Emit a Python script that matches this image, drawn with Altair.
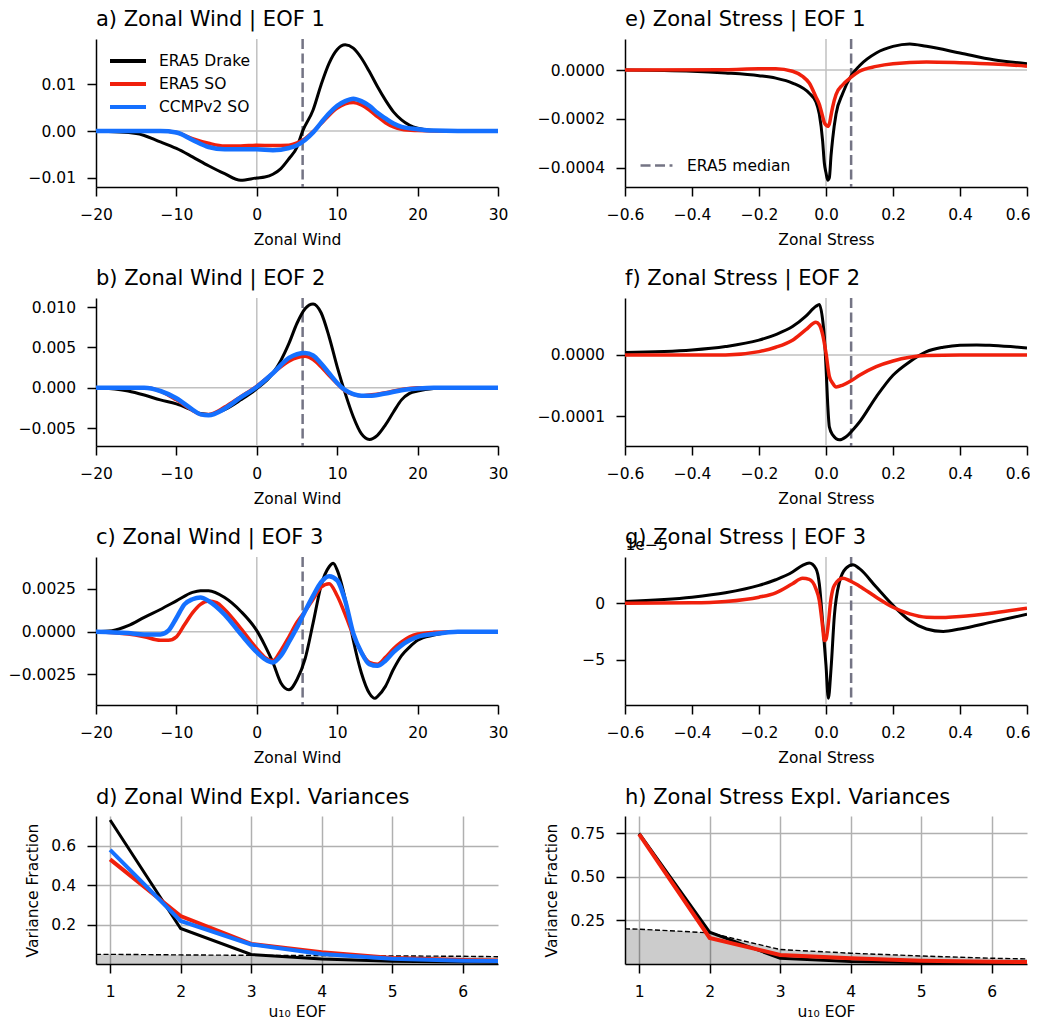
import altair as alt
import pandas as pd

FONT = "DejaVu Sans"
FS = 15.5
SERIES = ["ERA5 Drake", "ERA5 SO", "CCMPv2 SO"]
COLORS = ["#000000", "#f0200c", "#1570ff"]
WIDTHS = {"ERA5 Drake": 3, "ERA5 SO": 3.5, "CCMPv2 SO": 4.5}
ZCOL = "#c0c0c0"
MEDCOL = "#747484"

# ---------------- Zonal wind EOF 1 ----------------
w1_drake_x = [-20, -15, -12, -10, -8, -6, -4, -2, 0, 1, 2, 3, 4, 5, 5.7, 7, 8, 9, 10, 11, 12, 13, 14, 15, 16, 17, 18, 20, 22, 25, 30]
w1_drake_y = [0, -0.0005, -0.0023, -0.0037, -0.0055, -0.0074, -0.0091, -0.0105, -0.0100, -0.0098, -0.0092, -0.0080, -0.0059, -0.0034, 0.0, 0.0045, 0.0099, 0.0145, 0.0174, 0.0184, 0.0177, 0.0156, 0.0127, 0.0095, 0.0066, 0.0041, 0.0024, 0.0006, 0.0001, 0, 0]
w1_so_x = [-20, -12, -10, -8, -6, -4, -2, 0, 2, 4, 5, 6, 7, 8, 9, 10, 11, 12, 13, 14, 15, 16, 17, 18, 20, 22, 30]
w1_so_y = [0, 0, -0.0003, -0.0016, -0.0026, -0.0032, -0.0032, -0.0030, -0.0031, -0.0030, -0.0025, -0.0016, -0.0001, 0.0016, 0.0034, 0.0049, 0.0058, 0.0061, 0.0056, 0.0045, 0.0031, 0.0018, 0.0009, 0.0004, 0.0001, 0, 0]
w1_ccmp_x = [-20, -12, -10, -8, -6, -4, -2, 0, 2, 4, 5, 6, 7, 8, 9, 10, 11, 12, 13, 14, 15, 16, 17, 18, 20, 22, 25, 30]
w1_ccmp_y = [0, 0, -0.0003, -0.0019, -0.0034, -0.0039, -0.0039, -0.0039, -0.0041, -0.0036, -0.0030, -0.0019, -0.0003, 0.0018, 0.0038, 0.0054, 0.0064, 0.0069, 0.0064, 0.0054, 0.0039, 0.0027, 0.0016, 0.0009, 0.0004, 0.0001, 0, 0]

# ---------------- Zonal wind EOF 2 ----------------
w2_drake_x = [-20, -16, -14, -12, -10, -8, -7, -6, -4, -2, 0, 2, 3, 4, 5, 6, 7, 8, 9, 10, 11, 12, 13, 14, 15, 16, 17, 18, 19, 20, 22, 25, 30]
w2_drake_y = [0, -0.0004, -0.0009, -0.0015, -0.0020, -0.0028, -0.0032, -0.0033, -0.0027, -0.0015, -0.0001, 0.0018, 0.0034, 0.0055, 0.0080, 0.0098, 0.0104, 0.0093, 0.0063, 0.0026, -0.0007, -0.0036, -0.0057, -0.0064, -0.0059, -0.0046, -0.0030, -0.0015, -0.0007, -0.0004, -0.0001, 0, 0]
w2_so_x = [-20, -14, -12, -10, -8, -7, -6, -4, -2, 0, 2, 4, 6, 7, 8, 9, 10, 11, 12, 13, 14, 16, 18, 20, 22, 30]
w2_so_y = [0, 0, -0.0004, -0.0015, -0.0028, -0.0033, -0.0033, -0.0024, -0.0011, 0.0002, 0.0018, 0.0033, 0.0039, 0.0035, 0.0026, 0.0015, 0.0005, -0.0004, -0.0008, -0.0010, -0.0009, -0.0006, -0.0002, 0, 0, 0]
w2_ccmp_x = [-20, -14, -12, -10, -8, -7, -6, -4, -2, 0, 2, 4, 6, 7, 8, 9, 10, 11, 12, 13, 14, 16, 18, 20, 22, 30]
w2_ccmp_y = [0, 0, -0.0004, -0.0013, -0.0027, -0.0033, -0.0034, -0.0026, -0.0012, 0.0001, 0.0018, 0.0037, 0.0043, 0.0040, 0.0030, 0.0018, 0.0006, -0.0003, -0.0008, -0.0010, -0.0010, -0.0007, -0.0003, -0.0001, 0, 0]

# ---------------- Zonal wind EOF 3 ----------------
w3_drake_x = [-20, -18, -16, -14, -12, -10, -8, -7, -6, -4, -2, 0, 1, 2, 3, 4, 5, 6, 7, 8, 9, 9.5, 10, 11, 12, 13, 14, 14.7, 15, 16, 17, 18, 19, 20, 22, 25, 30]
w3_drake_y = [0, 0.00006, 0.00035, 0.00084, 0.0013, 0.0018, 0.0023, 0.0024, 0.0024, 0.0020, 0.0012, 0.00006, -0.0008, -0.0018, -0.0030, -0.0034, -0.0028, -0.0016, 0.0005, 0.0027, 0.0038, 0.0040, 0.0036, 0.0019, -0.0005, -0.0024, -0.0036, -0.0039, -0.0038, -0.0032, -0.0022, -0.0014, -0.0009, -0.0005, -0.0002, 0, 0]
w3_so_x = [-20, -16, -14, -12, -11, -10, -9, -8, -7, -6, -5, -4, -2, 0, 1, 2, 3, 4, 5, 6, 7, 8, 9, 10, 11, 12, 13, 14, 15, 16, 17, 18, 19, 20, 22, 25, 30]
w3_so_y = [0, -0.00014, -0.0003, -0.0005, -0.0005, -0.0003, 0.0004, 0.0011, 0.0016, 0.0018, 0.0017, 0.0013, 0.0002, -0.0010, -0.0015, -0.0017, -0.0011, -0.0003, 0.00055, 0.0012, 0.0019, 0.0026, 0.0028, 0.0021, 0.0010, -0.0002, -0.0012, -0.0018, -0.0019, -0.0015, -0.0010, -0.0006, -0.0003, -0.00014, -0.00004, 0, 0]
w3_ccmp_x = [-20, -16, -14, -12, -11, -10, -9, -8, -7, -6, -4, -2, 0, 1, 2, 3, 4, 5, 6, 7, 8, 9, 10, 11, 12, 13, 14, 15, 16, 17, 18, 19, 20, 22, 25, 30]
w3_ccmp_y = [0, -0.00008, -0.00016, -0.00016, 0.00006, 0.0008, 0.0016, 0.0019, 0.0020, 0.0018, 0.0010, -0.00014, -0.0012, -0.0016, -0.0018, -0.0014, -0.0006, 0.00025, 0.0012, 0.0021, 0.0029, 0.00325, 0.0030, 0.0018, -0.0001, -0.0012, -0.0019, -0.0020, -0.0017, -0.0012, -0.0008, -0.0005, -0.0003, -0.00014, 0, 0]

# ---------------- Zonal stress EOF 1 ----------------
s1_drake_x = [-0.6, -0.4, -0.3, -0.2, -0.15, -0.1, -0.05, -0.03, -0.02, -0.01, -0.005, 0.0, 0.005, 0.01, 0.015, 0.02, 0.03, 0.05, 0.075, 0.1, 0.15, 0.2, 0.25, 0.3, 0.4, 0.5, 0.6]
s1_drake_y = [0, -0.000005, -0.000012, -0.000023, -0.000033, -0.000053, -0.000095, -0.00013, -0.00018, -0.00029, -0.00038, -0.00042, -0.00045, -0.00044, -0.00035, -0.00028, -0.00018, -0.000095, -0.000023, 0.000018, 0.00007, 0.000097, 0.000107, 0.000097, 0.00007, 0.000042, 0.000026]
s1_so_x = [-0.6, -0.3, -0.2, -0.15, -0.1, -0.07, -0.05, -0.03, -0.02, -0.01, -0.005, 0.0, 0.005, 0.01, 0.015, 0.02, 0.03, 0.05, 0.075, 0.1, 0.15, 0.2, 0.3, 0.4, 0.5, 0.6]
s1_so_y = [0, 0.000001, 0.000005, 0.000005, -0.000005, -0.000026, -0.000053, -0.00011, -0.00014, -0.00019, -0.000215, -0.000225, -0.00023, -0.00022, -0.000185, -0.00015, -0.0001, -0.00006, -0.000029, -0.000005, 0.000015, 0.000026, 0.000033, 0.00003, 0.000025, 0.000016]

# ---------------- Zonal stress EOF 2 ----------------
s2_drake_x = [-0.6, -0.4, -0.3, -0.2, -0.15, -0.1, -0.06, -0.03, -0.02, -0.01, -0.005, 0.0, 0.005, 0.01, 0.02, 0.04, 0.06, 0.08, 0.1, 0.15, 0.2, 0.25, 0.3, 0.35, 0.4, 0.45, 0.5, 0.6]
s2_drake_y = [0.0000038, 0.000008, 0.0000136, 0.000024, 0.000033, 0.000046, 0.000063, 0.000079, 0.000082, 0.000057, 0.00003, -0.000019, -0.000079, -0.000117, -0.00013, -0.000138, -0.000133, -0.000122, -0.000109, -0.000068, -0.000033, -0.000011, 0.0000054, 0.0000125, 0.0000158, 0.0000163, 0.0000152, 0.0000114]
s2_so_x = [-0.6, -0.3, -0.2, -0.15, -0.1, -0.06, -0.03, -0.02, -0.01, 0.0, 0.01, 0.02, 0.03, 0.05, 0.075, 0.1, 0.15, 0.2, 0.25, 0.3, 0.4, 0.6]
s2_so_y = [0, 0, 0.0000054, 0.0000125, 0.000024, 0.000041, 0.000053, 0.000049, 0.000033, 0.000003, -0.000035, -0.000046, -0.000052, -0.000049, -0.000042, -0.000033, -0.000019, -0.0000098, -0.0000038, -0.000001, 0, 0]

# ---------------- Zonal stress EOF 3 (units of 1e-5) ----------------
s3_drake_x = [-0.6, -0.4, -0.3, -0.2, -0.15, -0.1, -0.07, -0.05, -0.03, -0.02, -0.01, 0.0, 0.007, 0.015, 0.025, 0.04, 0.06, 0.08, 0.1, 0.15, 0.2, 0.25, 0.3, 0.35, 0.4, 0.5, 0.6]
s3_drake_y = [0.15, 0.53, 0.92, 1.57, 2.07, 2.75, 3.34, 3.55, 3.05, 1.72, -1.69, -5.5, -8.4, -5.8, -1.1, 1.86, 3.1, 3.4, 3.05, 1.42, -0.2, -1.54, -2.28, -2.5, -2.28, -1.63, -0.98]
s3_so_x = [-0.6, -0.4, -0.3, -0.2, -0.15, -0.1, -0.07, -0.05, -0.03, -0.02, -0.01, -0.005, 0.0, 0.005, 0.015, 0.025, 0.05, 0.07, 0.1, 0.15, 0.2, 0.25, 0.3, 0.35, 0.4, 0.5, 0.6]
s3_so_y = [0, 0.03, 0.15, 0.53, 0.92, 1.72, 2.2, 2.1, 1.27, 0.24, -2.1, -3.3, -3.2, -2.3, 0.4, 1.57, 2.2, 2.0, 1.5, 0.53, -0.36, -0.95, -1.24, -1.27, -1.18, -0.86, -0.44]

# ---------------- Explained variances ----------------
eof_num = [1, 2, 3, 4, 5, 6, 7]
wind_var_drake = [0.73, 0.18, 0.048, 0.025, 0.014, 0.010, 0.008]
wind_var_so = [0.53, 0.243, 0.102, 0.060, 0.030, 0.020, 0.016]
wind_var_ccmp = [0.578, 0.218, 0.099, 0.051, 0.026, 0.017, 0.014]
noise_x = [0.8, 1, 2, 3, 4, 5, 6, 6.5]
wind_noise = [0.049, 0.049, 0.046, 0.044, 0.043, 0.041, 0.039, 0.037]
stress_var_drake = [0.75, 0.183, 0.033, 0.015, 0.008, 0.004, 0.003]
stress_var_so = [0.746, 0.15, 0.052, 0.033, 0.019, 0.013, 0.010]
stress_noise = [0.202, 0.2, 0.179, 0.083, 0.062, 0.046, 0.033, 0.029]

zero_line = [0]
median_wind = [5.7]
median_stress = [0.075]

wind_ticks = [-20, -10, 0, 10, 20, 30]
stress_ticks = [-0.6, -0.4, -0.2, 0.0, 0.2, 0.4, 0.6]

W, H = 402, 148
TITLE_OFFSET = 8

LEGEND_A = alt.Legend(title=None, orient="none", legendX=18, legendY=8,
                      symbolType="M-1.5,0H1.5", symbolSize=576, symbolStrokeWidth=4,
                      labelOffset=17, rowPadding=0, padding=0,
                      labelFont=FONT, labelFontSize=FS, labelColor="black")

# keep the last stress tick label inside the page (right edge)
LAST_LABEL = "datum.value >= 0.59"
STRESS_XAXIS_EXTRA = dict(
    labelAlign={"condition": {"test": LAST_LABEL, "value": "right"}, "value": "center"},
    labelOffset={"condition": {"test": LAST_LABEL, "value": 3}, "value": 0},
)


def frame(xs, ys, name):
    return pd.DataFrame({"x": xs, "y": ys, "series": name})


def eof_panel(title, series, xdom, ydom, xticks, yticks, xfmt, yfmt, xtitle,
              median, legend=None, dash_legend=False, ytitle=None, yextra=None,
              xextra=None, title_offset=TITLE_OFFSET):
    xsc = alt.Scale(domain=xdom, nice=False, zero=False)
    ysc = alt.Scale(domain=ydom, nice=False, zero=False)
    xargs = dict(values=xticks, format=xfmt, title=xtitle, titlePadding=9)
    if xextra:
        xargs.update(xextra)
    xaxis = alt.Axis(**xargs)
    yargs = dict(values=yticks, format=yfmt, title=ytitle)
    if yextra:
        yargs.update(yextra)
    yaxis = alt.Axis(**yargs)

    def X():
        return alt.X("x:Q", scale=xsc, axis=xaxis)

    def Y():
        return alt.Y("y:Q", scale=ysc, axis=yaxis)

    layers = []
    layers.append(alt.Chart(pd.DataFrame({"x": zero_line})).mark_rule(
        color=ZCOL, strokeWidth=1.5).encode(x=X()))
    layers.append(alt.Chart(pd.DataFrame({"y": zero_line})).mark_rule(
        color=ZCOL, strokeWidth=1.5).encode(y=Y()))
    med_df = pd.DataFrame({"x": median, "label": ["ERA5 median"]})
    med = alt.Chart(med_df).mark_rule(color=MEDCOL, strokeWidth=2.5, strokeDash=[10, 4.5])
    if dash_legend:
        med = med.encode(
            x=X(),
            strokeDash=alt.StrokeDash(
                "label:N",
                scale=alt.Scale(domain=["ERA5 median"], range=[[10, 4.5]]),
                legend=alt.Legend(title=None, orient="none", legendX=18, legendY=113,
                                  symbolType="M-1.33,0H1.33", symbolSize=576,
                                  symbolStrokeColor=MEDCOL, symbolStrokeWidth=2.5,
                                  labelOffset=17, padding=0,
                                  labelFont=FONT, labelFontSize=FS, labelColor="black")))
    else:
        med = med.encode(x=X())
    layers.append(med)
    for name, xs, ys in series:
        layers.append(
            alt.Chart(frame(xs, ys, name)).mark_line(
                strokeWidth=WIDTHS[name], interpolate="monotone", clip=True
            ).encode(
                x=X(), y=Y(),
                color=alt.Color("series:N", scale=alt.Scale(domain=SERIES, range=COLORS),
                                legend=legend)))
    return alt.layer(*layers).properties(
        width=W, height=H, title=alt.TitleParams(title, offset=title_offset))


def var_panel(title, series, noise, ydom, yticks, yfmt):
    xsc = alt.Scale(domain=[0.8, 6.5], nice=False, zero=False)
    ysc = alt.Scale(domain=ydom, nice=False, zero=False)
    xaxis = alt.Axis(values=[1, 2, 3, 4, 5, 6], format="d", title="u₁₀ EOF",
                     labelPadding=11.5, titlePadding=4,
                     grid=True, gridColor="#b0b0b0", gridWidth=1.5)
    yaxis = alt.Axis(values=yticks, format=yfmt, title="Variance Fraction",
                     grid=True, gridColor="#b0b0b0", gridWidth=1.5)

    def X():
        return alt.X("x:Q", scale=xsc, axis=xaxis)

    def Y():
        return alt.Y("y:Q", scale=ysc, axis=yaxis)

    ndf = pd.DataFrame({"x": noise_x, "y": noise})
    layers = [
        alt.Chart(ndf).mark_area(color="black", opacity=0.2, clip=True).encode(x=X(), y=Y()),
        alt.Chart(ndf).mark_line(color="black", strokeWidth=1.4, strokeDash=[5, 2.5],
                                 clip=True).encode(x=X(), y=Y()),
    ]
    for name, ys, sw in series:
        layers.append(
            alt.Chart(frame(eof_num, ys, name)).mark_line(strokeWidth=sw, clip=True).encode(
                x=X(), y=Y(),
                color=alt.Color("series:N", scale=alt.Scale(domain=SERIES, range=COLORS),
                                legend=None)))
    return alt.layer(*layers).properties(
        width=W, height=H, title=alt.TitleParams(title, offset=TITLE_OFFSET))


pa = eof_panel("a) Zonal Wind | EOF 1",
               [("ERA5 Drake", w1_drake_x, w1_drake_y), ("ERA5 SO", w1_so_x, w1_so_y),
                ("CCMPv2 SO", w1_ccmp_x, w1_ccmp_y)],
               [-20, 30], [-0.01193, 0.01965], wind_ticks, [-0.01, 0.0, 0.01], "d", ".2f",
               "Zonal Wind", median_wind, legend=LEGEND_A)
pb = eof_panel("b) Zonal Wind | EOF 2",
               [("ERA5 Drake", w2_drake_x, w2_drake_y), ("ERA5 SO", w2_so_x, w2_so_y),
                ("CCMPv2 SO", w2_ccmp_x, w2_ccmp_y)],
               [-20, 30], [-0.00722, 0.01113], wind_ticks, [-0.005, 0.0, 0.005, 0.010], "d", ".3f",
               "Zonal Wind", median_wind)
pc = eof_panel("c) Zonal Wind | EOF 3",
               [("ERA5 Drake", w3_drake_x, w3_drake_y), ("ERA5 SO", w3_so_x, w3_so_y),
                ("CCMPv2 SO", w3_ccmp_x, w3_ccmp_y)],
               [-20, 30], [-0.00429, 0.00437], wind_ticks, [-0.0025, 0.0, 0.0025], "d", ".4f",
               "Zonal Wind", median_wind)
pe = eof_panel("e) Zonal Stress | EOF 1",
               [("ERA5 Drake", s1_drake_x, s1_drake_y), ("ERA5 SO", s1_so_x, s1_so_y)],
               [-0.6, 0.6], [-0.000478, 0.000127], stress_ticks, [-0.0004, -0.0002, 0.0], ".1f", ".4f",
               "Zonal Stress", median_stress, dash_legend=True, xextra=STRESS_XAXIS_EXTRA)
pf = eof_panel("f) Zonal Stress | EOF 2",
               [("ERA5 Drake", s2_drake_x, s2_drake_y), ("ERA5 SO", s2_so_x, s2_so_y)],
               [-0.6, 0.6], [-0.000148, 0.0000925], stress_ticks, [-0.0001, 0.0], ".1f", ".4f",
               "Zonal Stress", median_stress, xextra=STRESS_XAXIS_EXTRA)
pg = eof_panel("g) Zonal Stress | EOF 3",
               [("ERA5 Drake", s3_drake_x, s3_drake_y), ("ERA5 SO", s3_so_x, s3_so_y)],
               [-0.6, 0.6], [-9.0, 4.08], stress_ticks, [-5, 0], ".1f", "d",
               "Zonal Stress", median_stress, ytitle="1e−5",
               yextra=dict(titleAngle=0, titleX=0, titleY=-8, titleAlign="left",
                           titleBaseline="alphabetic"),
               xextra=STRESS_XAXIS_EXTRA,
               title_offset=TITLE_OFFSET - 19)
pd_ = var_panel("d) Zonal Wind Expl. Variances",
                [("ERA5 Drake", wind_var_drake, 3), ("ERA5 SO", wind_var_so, 4),
                 ("CCMPv2 SO", wind_var_ccmp, 4)],
                wind_noise, [0, 0.75], [0.2, 0.4, 0.6], ".1f")
ph = var_panel("h) Zonal Stress Expl. Variances",
               [("ERA5 Drake", stress_var_drake, 3), ("ERA5 SO", stress_var_so, 4)],
               stress_noise, [0, 0.85], [0.25, 0.5, 0.75], ".2f")

chart = alt.concat(pa, pe, pb, pf, pc, pg, pd_, ph, columns=2,
                   spacing={"row": 111, "column": 127})
chart = chart.properties(bounds="flush", padding=0).resolve_scale(
    color="independent", strokeDash="independent")
chart = chart.configure_view(stroke=None).configure_axis(
    domainColor="black", domainWidth=1.5, tickColor="black", tickWidth=1.5, tickSize=9,
    labelPadding=11.5, labelFont=FONT, labelFontSize=FS, labelColor="black",
    labelFlush=False, labelOverlap=False, labelBound=False,
    titleFont=FONT, titleFontSize=FS, titleFontWeight="normal", titleColor="black",
    titlePadding=9, grid=False
).configure_axisY(titlePadding=10).configure_title(
    font=FONT, fontSize=21, fontWeight="normal", anchor="start", frame="group",
    color="black"
).configure_legend(labelFont=FONT, labelFontSize=FS, labelColor="black")

chart.save("out.html", embed_options={"renderer": "svg", "actions": False})
